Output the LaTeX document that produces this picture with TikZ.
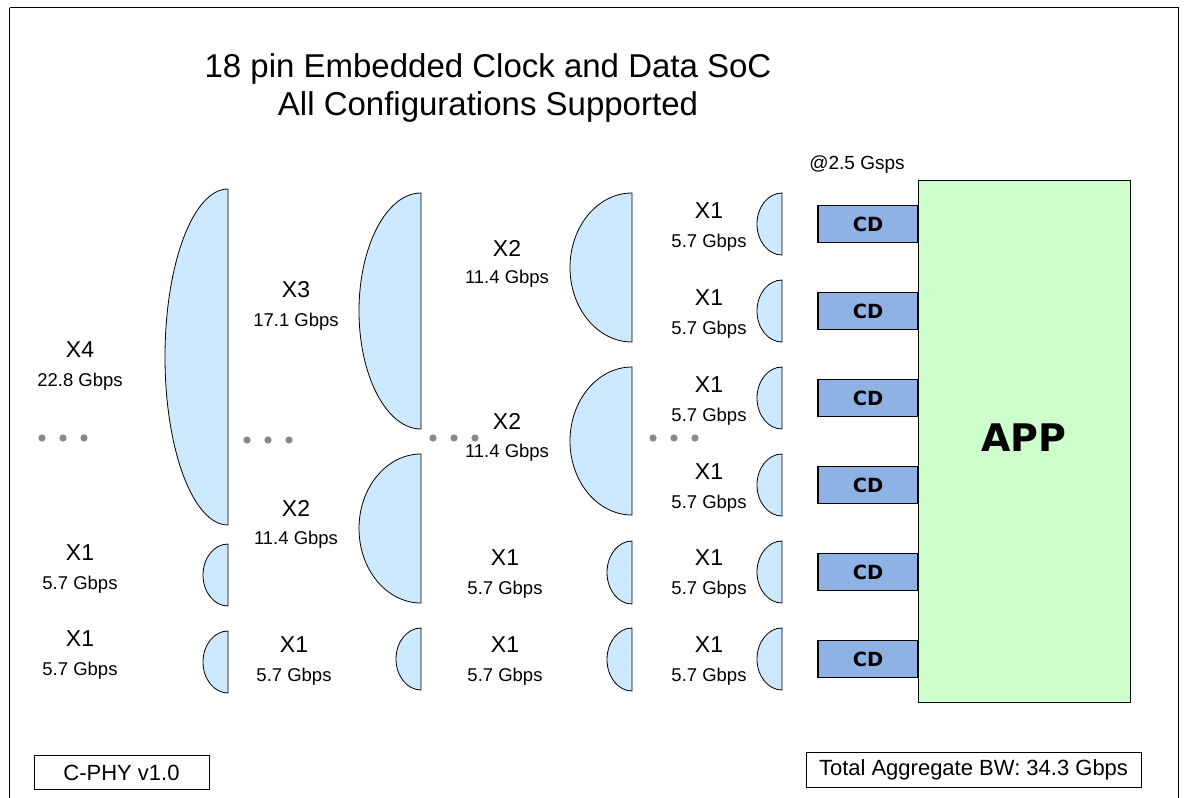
\documentclass[tikz,border=0pt]{standalone}
\usepackage{fontspec}
\setmainfont{Liberation Sans}
\newfontfamily\boldsans{DejaVu Sans}
\definecolor{lensblue}{RGB}{204,233,255}
\definecolor{cdblue}{RGB}{141,178,227}
\definecolor{appgreen}{RGB}{204,255,204}
\definecolor{dotgray}{RGB}{136,136,136}

% half-ellipse lane shape: flat right edge at x=#1, from y=#2 to y=#3, bulging left to x=#4
\newcommand\halfdome[4]{%
  \draw[lane] (#1,#3) arc[start angle=90, end angle=270,
      x radius={#1-#4}, y radius={(#3-#2)/2}] -- cycle;}
% row of three grey dots starting at the given position
\newcommand\dotrow[2]{%
  \foreach \k in {0,1,2} {\fill[dotgray] (#1+21*\k,#2) circle (3.6);}}

\begin{document}
\begin{tikzpicture}[x=1pt,y=-1pt,
  lane/.style={draw=black, line width=0.8pt, fill=lensblue},
  big/.style={font=\fontsize{23}{23}\selectfont, inner sep=0pt},
  rate/.style={font=\fontsize{18.5}{18.5}\selectfont, inner sep=0pt},
  cdbox/.style={draw=black, line width=1.2pt, fill=cdblue, minimum width=100pt,
    minimum height=37pt, inner sep=0pt, font=\boldsans\bfseries\fontsize{19.5}{19.5}\selectfont},
  tagbox/.style={draw=black, line width=0.8pt, fill=white, inner sep=0pt,
    font=\fontsize{22}{22}\selectfont}]
\useasboundingbox (0,0) rectangle (1184,798);
\fill[white] (0,0) rectangle (1184,798);
\draw[line width=1.6pt] (9.5,7.5) -- (1178.5,7.5);
\draw[line width=1.6pt] (9.5,7.5) -- (9.5,800);
\draw[line width=1.6pt] (1178.5,7.5) -- (1178.5,800);

% title
\node[font=\fontsize{33}{33}\selectfont, inner sep=0pt] (title1) at (488,69) {18 pin Embedded Clock and Data SoC};
\node[font=\fontsize{33}{33}\selectfont, inner sep=0pt] (title2) at (488,107) {All Configurations Supported};

% lane shapes, column 1
\halfdome{228}{189}{525}{165}
\halfdome{228}{544}{606}{203}
\halfdome{228}{631}{693}{203}
% column 2
\halfdome{421}{193}{429}{359}
\halfdome{421}{454}{603}{359}
\halfdome{421}{628}{690}{396}
% column 3
\halfdome{632}{193}{342}{570}
\halfdome{632}{367}{515}{570}
\halfdome{632}{541}{604}{607}
\halfdome{632}{628}{691}{607}
% column 4
\foreach \t in {193,280,367,454,541,628} {\halfdome{782}{\t}{\t+62}{757}}

% labels, column 1
\node[big]  (x4)   at (80,350) {X4};
\node[rate] (x4r)  at (80,382) {22.8 Gbps};
\node[big]  (c1a)  at (80,553) {X1};
\node[rate] (c1ar) at (80,585) {5.7 Gbps};
\node[big]  (c1b)  at (80,639) {X1};
\node[rate] (c1br) at (80,671) {5.7 Gbps};
% labels, column 2
\node[big]  (x3)   at (296,290) {X3};
\node[rate] (x3r)  at (296,322) {17.1 Gbps};
\node[big]  (c2a)  at (296,508) {X2};
\node[rate] (c2ar) at (296,540) {11.4 Gbps};
\node[big]  (c2b)  at (294,645) {X1};
\node[rate] (c2br) at (294,677) {5.7 Gbps};
% labels, column 3
\node[big]  (c3a)  at (507,248) {X2};
\node[rate] (c3ar) at (507,279) {11.4 Gbps};
\node[big]  (c3b)  at (507,421) {X2};
\node[rate] (c3br) at (507,453) {11.4 Gbps};
\node[big]  (c3c)  at (505,558) {X1};
\node[rate] (c3cr) at (505,590) {5.7 Gbps};
\node[big]  (c3d)  at (505,645) {X1};
\node[rate] (c3dr) at (505,677) {5.7 Gbps};
% labels, column 4
\foreach \i/\y in {1/211,2/298,3/385,4/472,5/558,6/645} {
  \node[big]  (c4\i)  at (709,\y) {X1};
  \node[rate] (c4\i r) at (709,\y+32) {5.7 Gbps};
}

% ellipsis dots
\dotrow{42}{438}
\dotrow{247}{440}
\dotrow{433}{438}
\dotrow{653}{438}

% application block and its CD ports
\node[draw=black, line width=1.2pt, fill=appgreen, minimum width=212pt,
  minimum height=522pt, inner sep=0pt, anchor=north west] (app) at (918,180) {};
\node[font=\boldsans\bfseries\fontsize{38}{38}\selectfont, inner sep=0pt] (apptext) at (1024,438) {APP};
\foreach \i/\y in {1/224,2/311,3/398,4/485,5/572,6/659} {
  \node[cdbox] (cd\i) at (868,\y) {CD};}
\node[font=\fontsize{19}{19}\selectfont, inner sep=0pt] (rate) at (857,165) {@2.5 Gsps};

% footer tags
\node[tagbox, minimum width=175pt, minimum height=34pt] (ver) at (121.5,772.5) {C-PHY v1.0};
\node[tagbox, minimum width=335pt, minimum height=35pt] (total) at (973.5,769.5) {Total Aggregate BW: 34.3 Gbps};
\end{tikzpicture}
\end{document}
